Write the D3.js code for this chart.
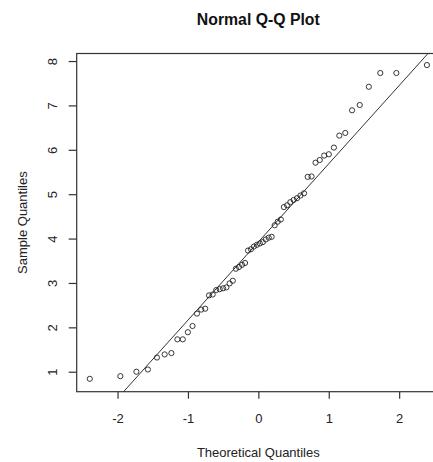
<!DOCTYPE html>
<html>
<head>
<meta charset="utf-8">
<script src="https://cdn.jsdelivr.net/npm/d3@7"></script>
<style>
  body { margin: 0; background: #fff; }
  svg { display: block; font-family: "Liberation Sans", Arial, sans-serif; }
</style>
</head>
<body>
<script>
// Theoretical quantiles (normal, n = 60)
const theoretical = [
  -2.394, -1.960, -1.732, -1.569, -1.440, -1.331, -1.235, -1.150, -1.073, -1.001,
  -0.935, -0.872, -0.812, -0.755, -0.701, -0.649, -0.598, -0.549, -0.501, -0.454,
  -0.408, -0.363, -0.319, -0.275, -0.232, -0.189, -0.147, -0.105, -0.063, -0.021,
   0.021,  0.063,  0.105,  0.147,  0.189,  0.232,  0.275,  0.319,  0.363,  0.408,
   0.454,  0.501,  0.549,  0.598,  0.649,  0.701,  0.755,  0.812,  0.872,  0.935,
   1.001,  1.073,  1.150,  1.235,  1.331,  1.440,  1.569,  1.732,  1.960,  2.394
];

// Sample quantiles (sorted)
const sample = [
  0.84, 0.90, 1.00, 1.05, 1.32, 1.39, 1.42, 1.73, 1.73, 1.89,
  2.03, 2.31, 2.40, 2.42, 2.72, 2.74, 2.84, 2.86, 2.88, 2.90,
  2.99, 3.05, 3.32, 3.36, 3.41, 3.45, 3.73, 3.76, 3.82, 3.86,
  3.89, 3.92, 3.98, 4.02, 4.04, 4.30, 4.38, 4.43, 4.71, 4.75,
  4.82, 4.87, 4.91, 4.97, 5.02, 5.39, 5.40, 5.71, 5.77, 5.87,
  5.90, 6.05, 6.32, 6.38, 6.89, 7.01, 7.42, 7.73, 7.73, 7.91
];

const xTicks = [-2, -1, 0, 1, 2];
const yTicks = [1, 2, 3, 4, 5, 6, 7, 8];

const width = 433, height = 462;
const plotLeft = 76.7, plotRight = 440, plotTop = 53.5, plotBottom = 391.7;
const ink = "#222";

const svg = d3.select("body").append("svg")
  .attr("width", width)
  .attr("height", height);

const x = d3.scaleLinear().domain([-2.58, 2.58]).range([plotLeft, plotRight]);
const y = d3.scaleLinear().domain([0.55, 8.17]).range([plotBottom, plotTop]);

// Plot box
svg.append("rect")
  .attr("x", plotLeft).attr("y", plotTop)
  .attr("width", plotRight - plotLeft).attr("height", plotBottom - plotTop)
  .attr("fill", "none")
  .attr("stroke", "#333")
  .attr("stroke-width", 1.2);

// X axis
const gx = svg.append("g")
  .attr("transform", `translate(0,${plotBottom})`)
  .call(d3.axisBottom(x).tickValues(xTicks).tickSize(7).tickFormat(d3.format("d")));
gx.select(".domain").remove();
gx.selectAll("line").attr("stroke", "#333").attr("stroke-width", 1.2);
gx.selectAll("text")
  .attr("y", 31.5).attr("dy", 0)
  .attr("fill", ink)
  .style("font-size", "13px")
  .text(d => d < 0 ? "-" + Math.abs(d) : d);

// Y axis
const gy = svg.append("g")
  .attr("transform", `translate(${plotLeft},0)`)
  .call(d3.axisLeft(y).tickValues(yTicks).tickSize(8).tickFormat(d3.format("d")));
gy.select(".domain").remove();
gy.selectAll("line").attr("stroke", "#333").attr("stroke-width", 1.2);
gy.selectAll("text")
  .attr("x", 0).attr("y", -19.5).attr("dy", 0)
  .attr("text-anchor", "middle")
  .attr("transform", "rotate(-90)")
  .attr("fill", ink)
  .style("font-size", "13px");

// Reference line through the quartiles (like qqline)
const q1 = d3.quantile(sample, 0.25), q3 = d3.quantile(sample, 0.75);
const z = 0.6745;
const slope = (q3 - q1) / (2 * z);
const intercept = q1 + z * slope;

svg.append("defs").append("clipPath").attr("id", "plot-clip")
  .append("rect")
  .attr("x", plotLeft).attr("y", plotTop)
  .attr("width", plotRight - plotLeft).attr("height", plotBottom - plotTop);

svg.append("line")
  .attr("clip-path", "url(#plot-clip)")
  .attr("x1", x(-2.58)).attr("y1", y(intercept + slope * -2.58))
  .attr("x2", x(2.58)).attr("y2", y(intercept + slope * 2.58))
  .attr("stroke", "#333")
  .attr("stroke-width", 1);

// Points
svg.append("g")
  .selectAll("circle")
  .data(d3.zip(theoretical, sample))
  .join("circle")
  .attr("cx", d => x(d[0]))
  .attr("cy", d => y(d[1]))
  .attr("r", 2.6)
  .attr("fill", "none")
  .attr("stroke", "#222")
  .attr("stroke-width", 0.9);

// Titles
svg.append("text")
  .attr("x", 258.3).attr("y", 25)
  .attr("text-anchor", "middle")
  .attr("fill", "#111")
  .style("font-size", "15.8px")
  .style("font-weight", "bold")
  .text("Normal Q-Q Plot");

svg.append("text")
  .attr("x", 258.3).attr("y", 457)
  .attr("text-anchor", "middle")
  .attr("fill", ink)
  .style("font-size", "13px")
  .text("Theoretical Quantiles");

svg.append("text")
  .attr("transform", `translate(27,${(plotTop + plotBottom) / 2}) rotate(-90)`)
  .attr("text-anchor", "middle")
  .attr("fill", ink)
  .style("font-size", "13px")
  .text("Sample Quantiles");
</script>
</body>
</html>
